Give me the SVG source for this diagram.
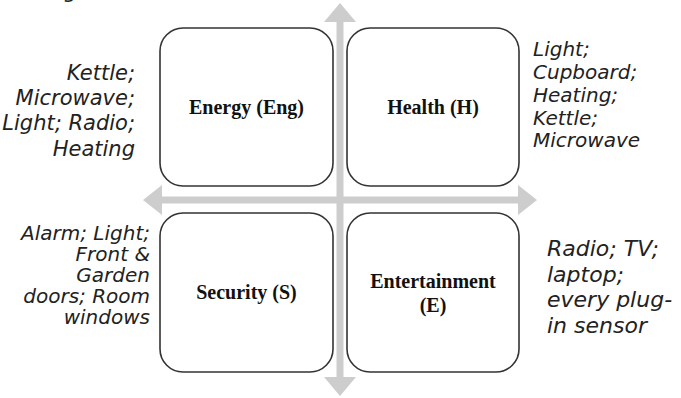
<svg xmlns="http://www.w3.org/2000/svg" width="681" height="398" viewBox="0 0 681 398">
  <style>
    .box { fill: #ffffff; stroke: #333333; stroke-width: 1.6; }
    .label { font-family: "Liberation Serif", "Times New Roman", serif; font-weight: bold; font-size: 20px; fill: #111111; text-anchor: middle; }
    .note { font-family: "DejaVu Sans", "Liberation Sans", sans-serif; font-style: italic; font-size: 21px; fill: #222222; }
    .tight { font-size: 20px; }
    .wide { font-size: 22px; }
    .axis { fill: #cdcdcd; stroke: none; }
  </style>

  <!-- cropped caption fragment at the top edge -->
  <text class="note" x="64" y="-2">g</text>

  <!-- axes -->
  <g id="connectors">
    <path class="axis" d="M340,3 L356,22 L343.5,22 L343.5,377 L356,377 L340,396 L324,377 L336.5,377 L336.5,22 L324,22 Z"/>
    <path class="axis" d="M143,200 L162,185 L162,196.5 L518,196.5 L518,185 L537,200 L518,215 L518,203.5 L162,203.5 L162,215 Z"/>
  </g>

  <g id="energy">
    <rect class="box" x="160" y="28" width="173" height="158" rx="23" ry="23"/>
    <text class="label" x="246.5" y="114">Energy (Eng)</text>
  </g>

  <g id="health">
    <rect class="box" x="347" y="28" width="172" height="158" rx="23" ry="23"/>
    <text class="label" x="433" y="114">Health (H)</text>
  </g>

  <g id="security">
    <rect class="box" x="160" y="213" width="173" height="159" rx="23" ry="23"/>
    <text class="label" x="246.5" y="299">Security (S)</text>
  </g>

  <g id="entertainment">
    <rect class="box" x="347" y="213" width="172" height="159" rx="23" ry="23"/>
    <text class="label" x="433" y="288">Entertainment</text>
    <text class="label" x="433" y="312">(E)</text>
  </g>

  <!-- device lists beside each quadrant -->
  <g id="energy-devices" class="note" text-anchor="end">
    <text x="135" y="80">Kettle;</text>
    <text x="135" y="105">Microwave;</text>
    <text x="135" y="130">Light; Radio;</text>
    <text x="135" y="156">Heating</text>
  </g>

  <g id="health-devices" class="note tight">
    <text x="533" y="56">Light;</text>
    <text x="533" y="79">Cupboard;</text>
    <text x="533" y="102">Heating;</text>
    <text x="533" y="125">Kettle;</text>
    <text x="533" y="147">Microwave</text>
  </g>

  <g id="security-devices" class="note tight" text-anchor="end">
    <text x="150" y="240">Alarm; Light;</text>
    <text x="150" y="261">Front &amp;</text>
    <text x="150" y="282">Garden</text>
    <text x="150" y="303">doors; Room</text>
    <text x="150" y="324">windows</text>
  </g>

  <g id="entertainment-devices" class="note wide">
    <text x="547" y="256">Radio; TV;</text>
    <text x="547" y="282">laptop;</text>
    <text x="547" y="307">every plug-</text>
    <text x="547" y="333">in sensor</text>
  </g>
</svg>
